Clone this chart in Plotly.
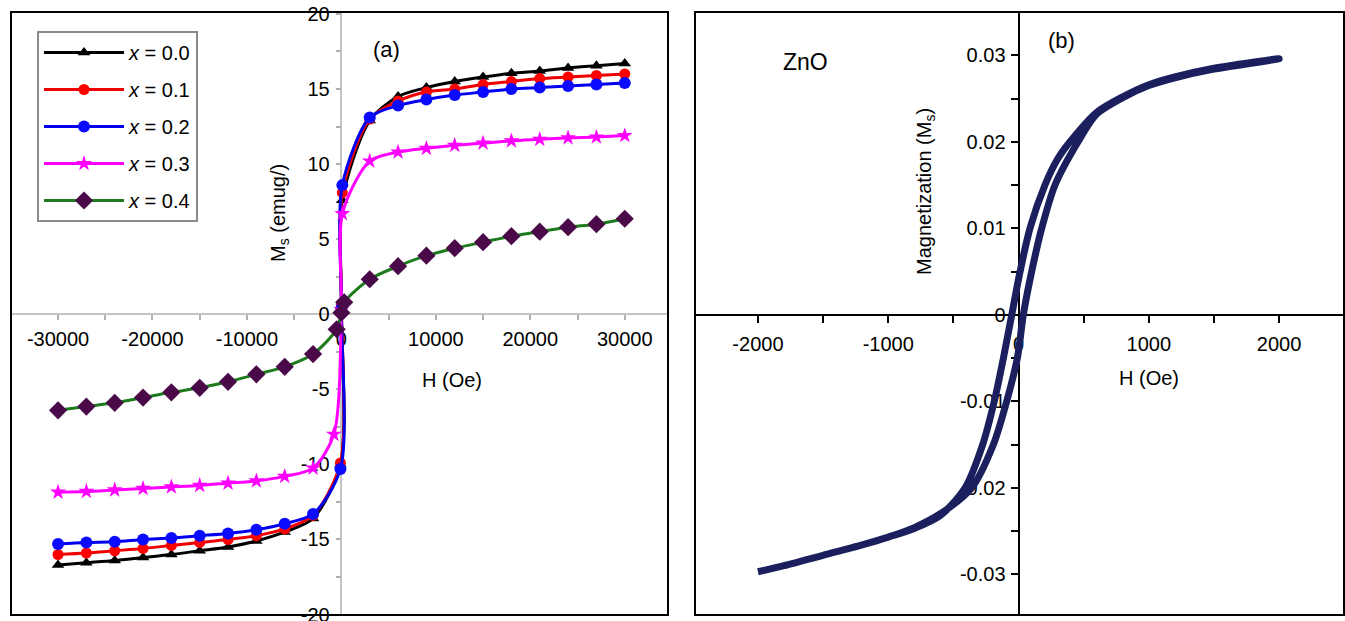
import plotly.graph_objects as go

# ---------------- Panel (a) data ----------------
H_x00 = [-30000, -27000, -24000, -21000, -18000, -15000, -12000, -9000, -6000, -3000, -100, 0, 100,
         3000, 6000, 9000, 12000, 15000, 18000, 21000, 24000, 27000, 30000]
M_x00 = [-16.7, -16.55, -16.4, -16.2, -16.0, -15.75, -15.5, -15.1, -14.5, -13.6, -10.0, 0.6, 7.6,
         12.9, 14.5, 15.1, 15.5, 15.8, 16.05, 16.2, 16.4, 16.55, 16.7]

H_x01 = H_x00
M_x01 = [-16.0, -15.9, -15.75, -15.6, -15.4, -15.2, -15.0, -14.75, -14.3, -13.4, -9.9, 0.7, 8.1,
         13.0, 14.2, 14.8, 15.0, 15.3, 15.5, 15.7, 15.8, 15.9, 16.0]

H_x02 = H_x00
M_x02 = [-15.3, -15.2, -15.15, -15.0, -14.9, -14.75, -14.6, -14.35, -13.95, -13.3, -10.3, 0.4, 8.6,
         13.1, 13.9, 14.3, 14.6, 14.8, 15.0, 15.1, 15.2, 15.3, 15.4]

H_x03 = [-30000, -27000, -24000, -21000, -18000, -15000, -12000, -9000, -6000, -3000, -800, 0, 100,
         3000, 6000, 9000, 12000, 15000, 18000, 21000, 24000, 27000, 30000]
M_x03 = [-11.85, -11.8, -11.7, -11.6, -11.5, -11.4, -11.25, -11.1, -10.8, -10.25, -8.0, 0.3, 6.7,
         10.2, 10.8, 11.05, 11.25, 11.4, 11.55, 11.65, 11.75, 11.8, 11.9]

H_x04 = [-30000, -27000, -24000, -21000, -18000, -15000, -12000, -9000, -6000, -3000, -500, 0, 300,
         3000, 6000, 9000, 12000, 15000, 18000, 21000, 24000, 27000, 30000]
M_x04 = [-6.4, -6.15, -5.9, -5.55, -5.2, -4.9, -4.5, -4.0, -3.5, -2.65, -1.0, 0.1, 0.8,
         2.33, 3.2, 3.9, 4.4, 4.8, 5.2, 5.5, 5.8, 6.0, 6.36]

series_names = ["<i>x</i> = 0.0", "<i>x</i> = 0.1", "<i>x</i> = 0.2", "<i>x</i> = 0.3", "<i>x</i> = 0.4"]

xa_ticks = [-30000, -20000, -10000, 0, 10000, 20000, 30000]
xa_labels = ["-30000", "-20000", "-10000", "0", "10000", "20000", "30000"]
ya_ticks = [-20, -15, -10, -5, 0, 5, 10, 15, 20]
ya_labels = ["-20", "-15", "-10", "-5", "0", "5", "10", "15", "20"]

# ---------------- Panel (b) data (ZnO hysteresis loop) ----------------
H_down = [2000, 1800, 1500, 1200, 1000, 800, 600, 395, 300, 203, 88, 12, -52, -116, -186, -275, -410,
          -600, -800, -1000, -1200, -1500, -1800, -2000]
M_down = [0.0296, 0.0292, 0.0285, 0.0275, 0.0266, 0.0252, 0.0234, 0.0200, 0.0180, 0.0150, 0.0100,
          0.0050, 0.0, -0.0050, -0.0100, -0.0150, -0.0200, -0.0232, -0.0247, -0.0257, -0.0266,
          -0.0278, -0.0290, -0.0297]
H_up = [-2000, -1800, -1500, -1200, -1000, -800, -600, -359, -193, -91, -9, 37, 101, 178, 280, 457,
        600, 800, 1000, 1200, 1500, 1800, 2000]
M_up = [-0.0297, -0.0290, -0.0278, -0.0266, -0.0257, -0.0246, -0.0230, -0.0200, -0.0150, -0.0100,
        -0.0050, 0.0, 0.0050, 0.0100, 0.0150, 0.0200, 0.0232, 0.0251, 0.0265, 0.0274, 0.0284,
        0.0291, 0.0296]

xb_ticks = [-2000, -1000, 0, 1000, 2000]
xb_labels = ["-2000", "-1000", "0", "1000", "2000"]
yb_ticks = [-0.03, -0.02, -0.01, 0, 0.01, 0.02, 0.03]
yb_labels = ["-0.03", "-0.02", "-0.01", "0", "0.01", "0.02", "0.03"]

W, Hh = 1345, 621
FONT = "Liberation Sans, Arial, Helvetica, sans-serif"

def px(x):
    return x / W

def py(y):
    return 1 - y / Hh

fig = go.Figure()

styles = [
    dict(line_color="#000000", marker=dict(symbol="triangle-up", size=11, color="#000000")),
    dict(line_color="#ee0000", marker=dict(symbol="circle", size=11, color="#ff0000")),
    dict(line_color="#0000ee", marker=dict(symbol="circle", size=12, color="#0a0aff")),
    dict(line_color="#ff00ff", marker=dict(symbol="star", size=12, color="#ff00ff")),
    dict(line_color="#1d7a1d", marker=dict(symbol="diamond", size=14, color="#4a0a4a")),
]
Hs = [H_x00, H_x01, H_x02, H_x03, H_x04]
Ms = [M_x00, M_x01, M_x02, M_x03, M_x04]
for i, (h, m, st) in enumerate(zip(Hs, Ms, styles)):
    fig.add_trace(go.Scatter(
        x=h, y=m, mode="lines+markers", name=series_names[i],
        line=dict(color=st["line_color"], width=3, shape="spline", smoothing=0.8),
        marker=st["marker"], xaxis="x", yaxis="y", legendgroup=f"g{i}",
    ))

fig.add_trace(go.Scatter(
    x=H_down + H_up, y=M_down + M_up, mode="lines", showlegend=False,
    line=dict(color="#1b1f5e", width=7, shape="spline", smoothing=0.8),
    xaxis="x2", yaxis="y2",
))

# domains and ranges
xa_dom = [px(11), px(668)]
xb_dom = [px(695), px(1344)]
y_dom = [py(615), py(12)]
xa_rng = [-34980, 34580]
ya_rng = [-20.03, 20.13]
xb_rng = [-2483, 2498]
yb_rng = [-0.0347, 0.0350]

def zero_pos(rng, dom):
    return dom[0] + (0 - rng[0]) / (rng[1] - rng[0]) * (dom[1] - dom[0])

tickfont = dict(family=FONT, size=20, color="#000")
common = dict(showgrid=False, zeroline=False, showline=True, automargin=False,
              ticklabeloverflow="allow", layer="below traces", tickfont=tickfont, ticks="outside")

fig.update_layout(
    width=W, height=Hh, margin=dict(l=0, r=0, t=0, b=0, autoexpand=False),
    paper_bgcolor="white", plot_bgcolor="white",
    font=dict(family=FONT, color="#000"),
    xaxis=dict(domain=xa_dom, range=xa_rng, anchor="free", position=zero_pos(ya_rng, y_dom),
               linecolor="#c4c4c4", linewidth=1.5, ticklen=5, tickcolor="#b0b0b0", tickwidth=1.5,
               tickvals=xa_ticks, ticktext=xa_labels,
               minor=dict(tickvals=[-25000, -15000, -5000, 5000, 15000, 25000], ticks="outside",
                          ticklen=5, tickcolor="#b0b0b0", tickwidth=1.5),
               ticklabelstandoff=2, **common),
    yaxis=dict(domain=y_dom, range=ya_rng, anchor="free", position=zero_pos(xa_rng, xa_dom),
               linecolor="#c4c4c4", linewidth=1.5, ticklen=5, tickcolor="#b0b0b0", tickwidth=1.5,
               tickvals=ya_ticks, ticktext=ya_labels,
               minor=dict(tickvals=[-17.5, -12.5, -7.5, -2.5, 2.5, 7.5, 12.5, 17.5], ticks="outside",
                          ticklen=5, tickcolor="#b0b0b0", tickwidth=1.5),
               ticklabelstandoff=2, **common),
    xaxis2=dict(domain=xb_dom, range=xb_rng, anchor="free", position=zero_pos(yb_rng, y_dom),
                linecolor="#000", linewidth=2, ticklen=7, tickcolor="#000", tickwidth=2,
                tickvals=xb_ticks, ticktext=xb_labels,
                minor=dict(tickvals=[-1500, -500, 500, 1500], ticks="outside", ticklen=7,
                           tickcolor="#000", tickwidth=2),
                ticklabelstandoff=4, **common),
    yaxis2=dict(domain=y_dom, range=yb_rng, anchor="free", position=zero_pos(xb_rng, xb_dom),
                linecolor="#000", linewidth=2, ticklen=7, tickcolor="#000", tickwidth=2,
                tickvals=yb_ticks, ticktext=yb_labels,
                minor=dict(tickvals=[-0.025, -0.015, -0.005, 0.005, 0.015, 0.025], ticks="outside",
                           ticklen=7, tickcolor="#000", tickwidth=2),
                ticklabelstandoff=1, **common),
    legend=dict(x=px(37), y=py(31), xanchor="left", yanchor="top",
                bgcolor="white", bordercolor="#8a8a8a", borderwidth=2,
                font=dict(family=FONT, size=20, color="#000"),
                traceorder="grouped", tracegroupgap=8, itemwidth=80),
    showlegend=True,
)

# frames
for xd in (xa_dom, xb_dom):
    fig.add_shape(type="rect", xref="paper", yref="paper", x0=xd[0], x1=xd[1], y0=y_dom[0], y1=y_dom[1],
                  line=dict(color="#000", width=2), fillcolor="rgba(0,0,0,0)", layer="above")

ann = [
    ("(a)", 386, 49, 22, 0),
    ("(b)", 1061, 41, 22, 0),
    ("ZnO", 805, 62, 23, 0),
    ("H (Oe)", 452, 380, 20, 0),
    ("H (Oe)", 1149, 378, 20, 0),
    ("M<sub>s</sub> (emug/)", 280, 213, 20, -90),
    ("Magnetization (M<sub>s</sub>)", 925, 192, 20, -90),
]
for t, x, y, s, ang in ann:
    fig.add_annotation(text=t, x=px(x), y=py(y), xref="paper", yref="paper", showarrow=False,
                       font=dict(family=FONT, size=s, color="#000"), textangle=ang,
                       xanchor="center", yanchor="middle")

fig.write_html("out.html", config={"displayModeBar": False},
               post_script="document.body.style.margin='0px';document.body.style.overflow='hidden';")
